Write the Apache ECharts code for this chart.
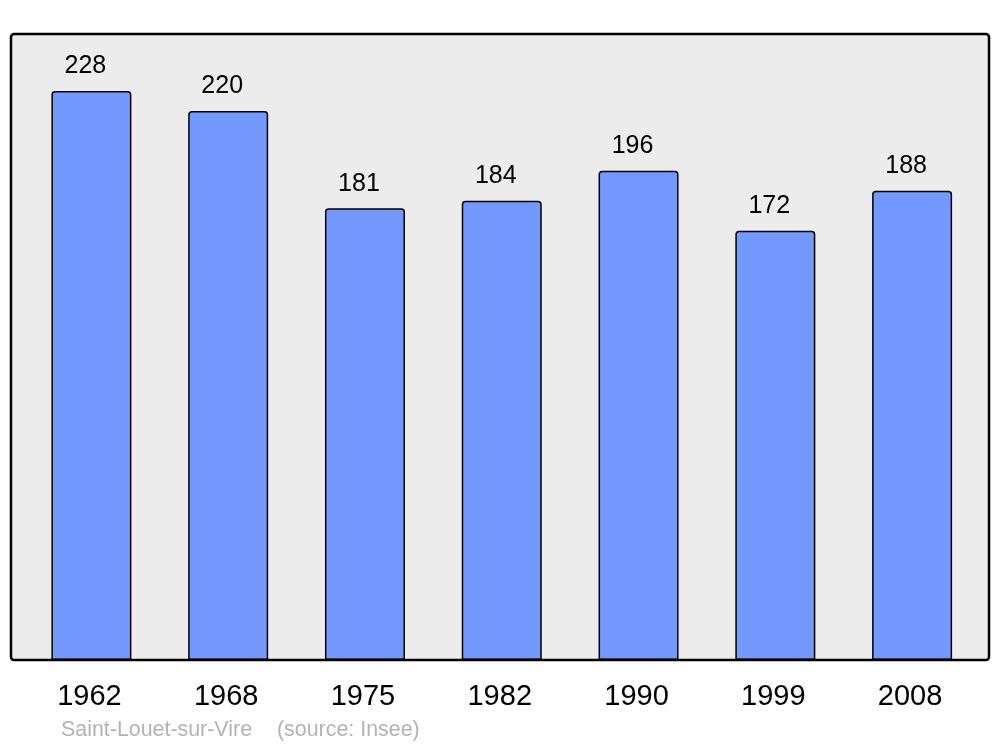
<!DOCTYPE html>
<html>
<head>
<meta charset="utf-8">
<script src="https://cdn.jsdelivr.net/npm/echarts@6/dist/echarts.min.js"></script>
<style>html,body{margin:0;padding:0;background:#fff}#c{width:1000px;height:747px}</style>
</head>
<body>
<div id="c"></div>
<script>
const years = ['1962','1968','1975','1982','1990','1999','2008'];
const population = [228, 220, 181, 184, 196, 172, 188];
const place = 'Saint-Louet-sur-Vire';
const sourceNote = '(source: Insee)';

const chart = echarts.init(document.getElementById('c'), null, {renderer: 'canvas'});
chart.setOption({
  animation: false,
  backgroundColor: '#ffffff',
  grid: {left: 23, right: 19.5, top: 34, bottom: 87},
  xAxis: {
    type: 'category', data: years,
    axisLine: {show: false}, axisTick: {show: false},
    axisLabel: {fontFamily: 'Liberation Sans', fontSize: 29, color: '#000', margin: 22,
                padding: [0, 4, 0, 0]}
  },
  yAxis: {type: 'value', min: 0, max: 250.8, show: false, splitLine: {show: false}},
  graphic: [
    {type: 'rect', z: -10, shape: {x: 11, y: 34, width: 978, height: 626, r: 3},
     style: {fill: '#ececec', stroke: null}},
    {type: 'rect', z: 100, shape: {x: 11, y: 34, width: 978, height: 626, r: 3},
     style: {fill: null, stroke: '#000', lineWidth: 2.5}},
    {type: 'text', left: 61, top: 720, z: 100,
     style: {text: place, font: '21.4px "Liberation Sans"', fill: '#b3b3b3'}},
    {type: 'text', left: 277, top: 720, z: 100,
     style: {text: sourceNote, font: '21.4px "Liberation Sans"', fill: '#b3b3b3'}}
  ],
  series: [{
    type: 'bar', data: population, barWidth: 80,
    itemStyle: {color: '#7399ff', borderColor: '#000', borderWidth: 1.5, borderRadius: [3,3,0,0]},
    label: {show: true, position: 'top', distance: 12, offset: [-6, 0],
            fontFamily: 'Liberation Sans', fontSize: 25, color: '#000'}
  }]
});
</script>
</body>
</html>
